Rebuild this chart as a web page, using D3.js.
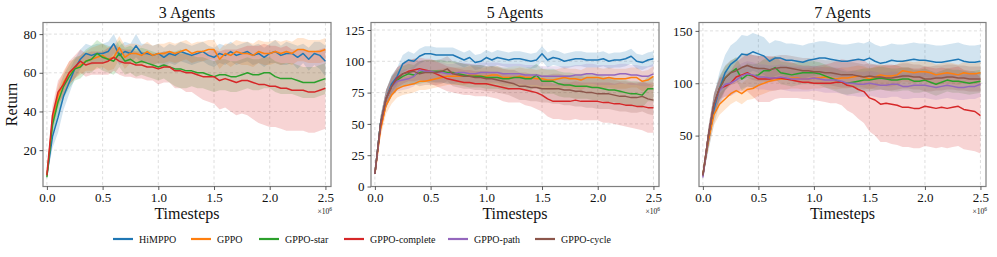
<!DOCTYPE html>
<html>
<head>
<meta charset="utf-8">
<script src="https://cdn.jsdelivr.net/npm/d3@7"></script>
<style>
  body { margin: 0; background: #fff; }
  svg text { font-family: "Liberation Serif", "Times New Roman", serif; fill: #111; }
</style>
</head>
<body>
<div id="graph"></div>
<script>
// Timesteps, in units of 1e6
const timesteps = [0, 0.05, 0.1, 0.15, 0.2, 0.25, 0.3, 0.35, 0.4, 0.45,
    0.5, 0.55, 0.6, 0.65, 0.7, 0.75, 0.8, 0.85, 0.9, 0.95,
    1.0, 1.05, 1.1, 1.15, 1.2, 1.25, 1.3, 1.35, 1.4, 1.45,
    1.5, 1.55, 1.6, 1.65, 1.7, 1.75, 1.8, 1.85, 1.9, 1.95,
    2.0, 2.05, 2.1, 2.15, 2.2, 2.25, 2.3, 2.35, 2.4, 2.45, 2.5];

const methods = ["HiMPPO", "GPPO", "GPPO-star", "GPPO-complete", "GPPO-path", "GPPO-cycle"];
const colors = ["#1f77b4", "#ff7f0e", "#2ca02c", "#d62728", "#9467bd", "#8c564b"];
const titles = ["3 Agents", "5 Agents", "7 Agents"];
const xTicks = [0, 0.5, 1.0, 1.5, 2.0, 2.5];
const yTicks3 = [20, 40, 60, 80];
const yTicks5 = [0, 25, 50, 75, 100, 125];
const yTicks7 = [50, 100, 150];

// ---- 3 agents ----
const himppo3 = [7,27,37,48,55,62,67,70,69,70, 70,71,75,69,71,70,74,70,70,69, 70,68,70,69,71,70,69,70,71,69, 68,70,69,71,69,70,71,69,70,68, 70,71,69,70,70,68,70,67,70,69, 66];
const himppo3Sd = [1,6,8,7,6,5,5,5,5,5, 5,5,5,5,5,5,6,5,5,5, 5,5,5,5,5,5,5,5,5,5, 5,5,5,5,5,5,5,5,5,5, 5,6,5,6,5,6,5,6,6,7, 8];
const gppo3 = [7,35,48,55,60,62,64,66,67,68, 69,67,68,73,68,70,70,69,71,69, 70,70,71,70,71,72,70,71,71,72, 72,67,70,69,71,70,70,69,71,70, 70,71,70,71,70,72,72,71,71,71, 72];
const gppo3Sd = [1,5,6,6,6,5,5,5,6,6, 6,6,6,6,6,5,5,5,5,5, 5,5,5,5,5,5,5,5,5,5, 5,5,5,6,6,6,6,6,6,6, 6,6,6,6,6,6,6,6,6,6, 6];
const star3 = [6,33,45,53,58,62,63,66,67,70, 68,67,66,70,66,67,65,66,65,64, 63,64,63,62,62,61,61,60,60,59, 58,59,59,58,58,59,60,59,59,60, 60,58,57,57,57,56,55,55,55,56, 57];
const star3Sd = [1,5,6,6,6,6,6,6,7,7, 7,7,7,7,7,7,7,7,7,7, 7,7,8,9,10,9,8,8,8,8, 8,8,8,8,8,8,8,8,8,8, 8,8,8,8,8,8,8,8,8,8, 8];
const complete3 = [7,38,50,54,60,63,66,64,65,65, 65,66,68,66,65,65,64,64,63,63, 62,63,63,61,61,60,60,59,58,58, 58,56,57,56,55,56,56,55,54,54, 53,53,52,52,51,51,51,50,50,51, 52];
const complete3Sd = [1,5,6,6,6,6,6,6,6,6, 6,7,7,7,7,7,7,7,7,7, 8,8,8,9,9,10,10,11,12,13, 14,15,15,16,17,17,18,19,20,21, 21,21,21,22,21,21,21,21,21,21, 21];

// ---- 5 agents ----
const himppo5 = [10,50,70,82,88,98,101,100,104,106, 106,105,105,105,105,103,101,103,99,100, 103,101,103,102,101,102,102,101,100,101, 106,101,103,102,100,101,102,102,101,101, 101,102,100,101,101,102,104,100,99,101, 102];
const himppo5Sd = [1,6,7,7,7,7,7,6,6,6, 6,6,6,6,6,6,6,6,6,6, 6,6,6,6,6,6,6,6,6,6, 6,6,6,6,6,6,6,6,6,6, 6,6,6,6,6,6,6,6,6,6, 6];
const gppo5 = [10,45,65,73,78,80,81,82,84,84, 85,86,87,88,88,88,88,89,89,88, 88,89,89,87,87,87,88,87,87,86, 86,85,85,86,87,86,86,85,87,87, 87,86,87,86,86,86,87,87,84,85, 88];
const gppo5Sd = [1,6,7,7,7,7,7,7,7,7, 7,7,7,7,7,7,7,7,7,7, 7,7,7,7,7,7,7,7,7,7, 8,8,8,8,8,8,8,8,8,8, 8,8,8,8,8,8,8,8,8,8, 8];
const star5 = [10,50,70,80,85,88,90,89,91,92, 92,92,92,91,91,90,89,88,88,88, 87,87,87,86,86,87,87,86,86,89, 84,84,84,82,81,81,80,80,80,79, 79,78,77,77,76,75,74,74,73,78, 78];
const star5Sd = [1,6,7,8,8,8,8,8,9,9, 9,9,9,9,9,9,9,9,9,9, 9,9,9,9,9,9,9,9,9,9, 10,10,10,10,10,10,10,10,10,10, 10,10,10,10,10,10,10,10,10,10, 10];
const complete5 = [10,48,70,80,87,90,92,93,94,93, 92,90,88,86,85,84,83,83,82,82, 82,81,80,79,78,78,78,77,76,75, 73,70,68,68,68,68,69,68,68,68, 68,67,67,66,66,65,65,64,64,63, 63];
const complete5Sd = [1,6,7,7,8,8,8,9,9,9, 10,10,10,10,10,10,10,10,10,10, 10,10,10,11,11,11,11,12,12,13, 13,14,14,14,15,15,15,15,15,15, 15,16,16,16,17,17,18,18,19,20, 20];
const path5 = [10,50,70,80,84,85,86,88,93,92, 92,91,91,90,90,91,91,90,90,91, 91,91,91,90,90,90,90,89,89,89, 88,88,88,88,88,88,89,89,90,90, 89,89,89,89,90,90,89,89,88,88, 90];
const path5Sd = [1,6,7,8,8,8,8,8,8,8, 8,8,8,8,8,8,8,8,8,8, 8,8,8,8,8,8,8,8,8,8, 8,8,8,8,8,8,8,8,8,8, 8,8,8,8,8,8,8,8,8,8, 8];
const cycle5 = [10,50,70,80,86,90,91,92,90,91, 91,91,92,94,90,89,88,88,87,87, 86,86,85,84,83,82,80,80,79,79, 78,78,78,78,77,77,76,76,75,75, 74,74,74,73,72,72,71,71,72,70, 69];
const cycle5Sd = [1,6,7,8,9,9,10,10,10,10, 10,10,10,10,10,10,10,10,10,10, 10,10,10,10,10,11,11,11,11,11, 11,11,12,12,12,12,12,12,12,12, 12,12,12,12,12,12,12,12,12,12, 12];

// ---- 7 agents ----
const himppo7 = [12,45,75,95,110,118,122,128,127,130, 128,126,121,124,124,122,122,121,120,122, 123,124,124,123,122,121,121,122,123,122, 124,121,119,120,122,121,121,122,123,122, 122,121,120,120,121,122,123,121,120,120, 121];
const himppo7Sd = [2,10,14,16,17,18,18,18,18,18, 18,18,17,17,16,16,16,16,16,16, 16,16,16,16,16,16,16,16,16,16, 16,16,16,16,16,16,16,16,16,16, 16,16,16,16,16,16,16,16,16,16, 16];
const gppo7 = [12,45,70,80,85,90,93,90,94,95, 98,100,102,103,104,104,105,105,104,104, 105,105,106,105,104,105,105,106,107,106, 104,106,108,107,107,108,112,111,110,111, 111,110,108,109,110,109,108,110,109,109, 110];
const gppo7Sd = [2,8,10,10,10,10,10,10,10,10, 10,10,10,10,10,10,10,10,10,10, 10,10,10,10,10,10,10,10,10,10, 10,10,10,10,10,10,10,10,10,10, 10,10,10,10,10,10,10,10,10,10, 10];
const star7 = [12,50,80,95,105,110,114,104,108,107, 108,112,112,115,110,109,108,109,110,110, 110,109,107,105,103,101,100,101,102,103, 103,104,105,104,103,103,104,104,102,102, 103,101,99,101,103,102,102,101,100,101, 102];
const star7Sd = [2,8,10,11,11,11,11,11,11,11, 11,11,11,11,11,11,11,11,11,11, 11,11,11,11,11,11,11,11,11,11, 11,11,11,11,11,11,11,11,11,11, 11,11,11,11,11,11,11,11,11,11, 11];
const complete7 = [12,50,80,95,97,100,106,108,110,107, 104,104,104,105,105,104,103,102,101,101, 100,100,100,100,101,101,98,97,94,92, 86,84,80,81,80,79,77,77,76,76, 78,77,76,77,76,77,78,75,74,73, 69];
const complete7Sd = [2,8,10,10,10,12,14,16,18,20, 22,22,22,20,19,18,17,16,16,16, 16,17,18,19,20,22,24,26,28,30, 32,34,36,37,38,38,38,38,38,38, 38,38,38,38,38,38,38,38,38,38, 36];
const path7 = [10,50,80,93,99,100,103,107,109,108, 106,106,105,105,106,105,104,104,104,104, 105,104,103,103,103,102,100,100,99,99, 100,99,98,98,99,99,97,97,98,98, 98,97,96,97,98,97,96,96,97,97, 99];
const path7Sd = [2,8,10,12,12,12,12,12,12,12, 12,12,12,12,12,12,12,12,12,12, 12,12,12,12,12,12,12,12,12,12, 12,12,12,12,12,12,12,12,12,12, 12,12,12,12,12,12,12,12,12,12, 12];
const cycle7 = [12,50,80,95,105,110,112,115,117,115, 114,114,113,114,115,115,114,113,112,112, 111,111,110,110,109,108,108,108,107,106, 107,106,106,105,105,106,107,107,106,106, 104,104,105,105,106,106,105,105,104,104, 104];
const cycle7Sd = [2,8,10,12,12,12,12,12,12,12, 12,12,12,12,12,12,12,12,12,12, 12,12,12,12,12,12,12,12,12,12, 12,12,12,12,12,12,12,12,12,12, 12,12,12,12,12,12,12,12,12,12, 12];

// panel set-up built from the arrays above
const panels = [
    { title: titles[0], left: 43, right: 331, yDomain: [1.2, 86], yTicks: yTicks3,
      series: [[himppo3, himppo3Sd, 0], [gppo3, gppo3Sd, 1], [star3, star3Sd, 2], [complete3, complete3Sd, 3]] },
    { title: titles[1], left: 371, right: 659, yDomain: [0, 131], yTicks: yTicks5,
      series: [[himppo5, himppo5Sd, 0], [gppo5, gppo5Sd, 1], [star5, star5Sd, 2], [complete5, complete5Sd, 3],
               [path5, path5Sd, 4], [cycle5, cycle5Sd, 5]] },
    { title: titles[2], left: 699, right: 986, yDomain: [1.4, 158], yTicks: yTicks7,
      series: [[himppo7, himppo7Sd, 0], [gppo7, gppo7Sd, 1], [star7, star7Sd, 2], [complete7, complete7Sd, 3],
               [path7, path7Sd, 4], [cycle7, cycle7Sd, 5]] }
];

const width = 997;
const height = 257;
const plotTop = 22.5;
const plotBottom = 186.5;

const svg = d3.select("#graph").append("svg")
    .attr("width", width)
    .attr("height", height);

panels.forEach(function(p, pi) {
    const xScale = d3.scaleLinear().domain([-0.035, 2.55]).range([p.left, p.right]);
    const yScale = d3.scaleLinear().domain(p.yDomain).range([plotBottom, plotTop]);

    const g = svg.append("g");

    g.append("clipPath").attr("id", "clip" + pi)
        .append("rect")
        .attr("x", p.left).attr("y", plotTop)
        .attr("width", p.right - p.left).attr("height", plotBottom - plotTop);

    // grid lines
    g.selectAll("line.hgrid")
        .data(p.yTicks)
        .enter().append("line")
        .attr("x1", p.left).attr("x2", p.right)
        .attr("y1", d => yScale(d)).attr("y2", d => yScale(d))
        .attr("stroke", "#d6d6d6")
        .attr("stroke-width", 0.8)
        .attr("stroke-dasharray", "3,2.5");
    g.selectAll("line.vgrid")
        .data(xTicks)
        .enter().append("line")
        .attr("y1", plotTop).attr("y2", plotBottom)
        .attr("x1", d => xScale(d)).attr("x2", d => xScale(d))
        .attr("stroke", "#d6d6d6")
        .attr("stroke-width", 0.8)
        .attr("stroke-dasharray", "3,2.5");

    const plot = g.append("g").attr("clip-path", "url(#clip" + pi + ")");

    // shaded bands (mean +/- std)
    p.series.forEach(function(s) {
        const mean = s[0], sd = s[1];
        const area = d3.area()
            .x((d, i) => xScale(timesteps[i]))
            .y0((d, i) => yScale(d - sd[i]))
            .y1((d, i) => yScale(d + sd[i]));
        plot.append("path")
            .datum(mean)
            .attr("d", area)
            .attr("fill", colors[s[2]])
            .attr("fill-opacity", 0.2)
            .attr("stroke", "none");
    });

    // mean lines
    p.series.forEach(function(s) {
        const line = d3.line()
            .x((d, i) => xScale(timesteps[i]))
            .y(d => yScale(d));
        plot.append("path")
            .datum(s[0])
            .attr("d", line)
            .attr("fill", "none")
            .attr("stroke", colors[s[2]])
            .attr("stroke-width", 1.5)
            .attr("stroke-linejoin", "round");
    });

    // frame
    g.append("rect")
        .attr("x", p.left).attr("y", plotTop)
        .attr("width", p.right - p.left).attr("height", plotBottom - plotTop)
        .attr("fill", "none")
        .attr("stroke", "#7f7f7f")
        .attr("stroke-width", 1.2);

    // axes
    const xAxis = g.append("g")
        .attr("transform", "translate(0," + plotBottom + ")")
        .call(d3.axisBottom(xScale).tickValues(xTicks).tickFormat(d3.format(".1f"))
            .tickSizeOuter(0).tickSize(3.5).tickPadding(3));
    const yAxis = g.append("g")
        .attr("transform", "translate(" + p.left + ",0)")
        .call(d3.axisLeft(yScale).tickValues(p.yTicks).tickSizeOuter(0).tickSize(3.5).tickPadding(3));
    [xAxis, yAxis].forEach(function(a) {
        a.select(".domain").remove();
        a.selectAll(".tick line").attr("stroke", "#333").attr("stroke-width", 0.8);
        a.selectAll(".tick text").style("font-size", "13px")
            .style("font-family", '"Liberation Serif", serif').attr("fill", "#111");
    });

    // title
    g.append("text")
        .attr("x", (p.left + p.right) / 2)
        .attr("y", 17.5)
        .style("text-anchor", "middle")
        .style("font-size", "16px")
        .text(p.title);

    // x label
    g.append("text")
        .attr("x", (p.left + p.right) / 2)
        .attr("y", 218.5)
        .style("text-anchor", "middle")
        .style("font-size", "16px")
        .text("Timesteps");

    // offset text x10^6
    const off = g.append("text")
        .attr("x", p.right + 1)
        .attr("y", 213.5)
        .style("text-anchor", "end")
        .style("font-size", "7.5px");
    off.append("tspan").text("×10");
    off.append("tspan").attr("dy", -3).style("font-size", "5.5px").text("6");

    if (pi === 0) {
        g.append("text")
            .attr("transform", "rotate(-90)")
            .attr("x", -(plotTop + plotBottom) / 2)
            .attr("y", 17)
            .style("text-anchor", "middle")
            .style("font-size", "16px")
            .text("Return");
    }
});

// legend
const legendX = [113, 191, 259, 344, 448, 535];
const legendY = 239;
const legend = svg.selectAll(".legend")
    .data(methods)
    .enter().append("g")
    .attr("class", "legend")
    .attr("transform", (d, i) => "translate(" + legendX[i] + "," + legendY + ")");
legend.append("line")
    .attr("x1", 0).attr("x2", 20)
    .attr("y1", 0).attr("y2", 0)
    .attr("stroke", (d, i) => colors[i])
    .attr("stroke-width", 2.2);
legend.append("text")
    .attr("x", 26)
    .attr("y", 3.5)
    .style("font-size", "10px")
    .text(d => d);
</script>
</body>
</html>
